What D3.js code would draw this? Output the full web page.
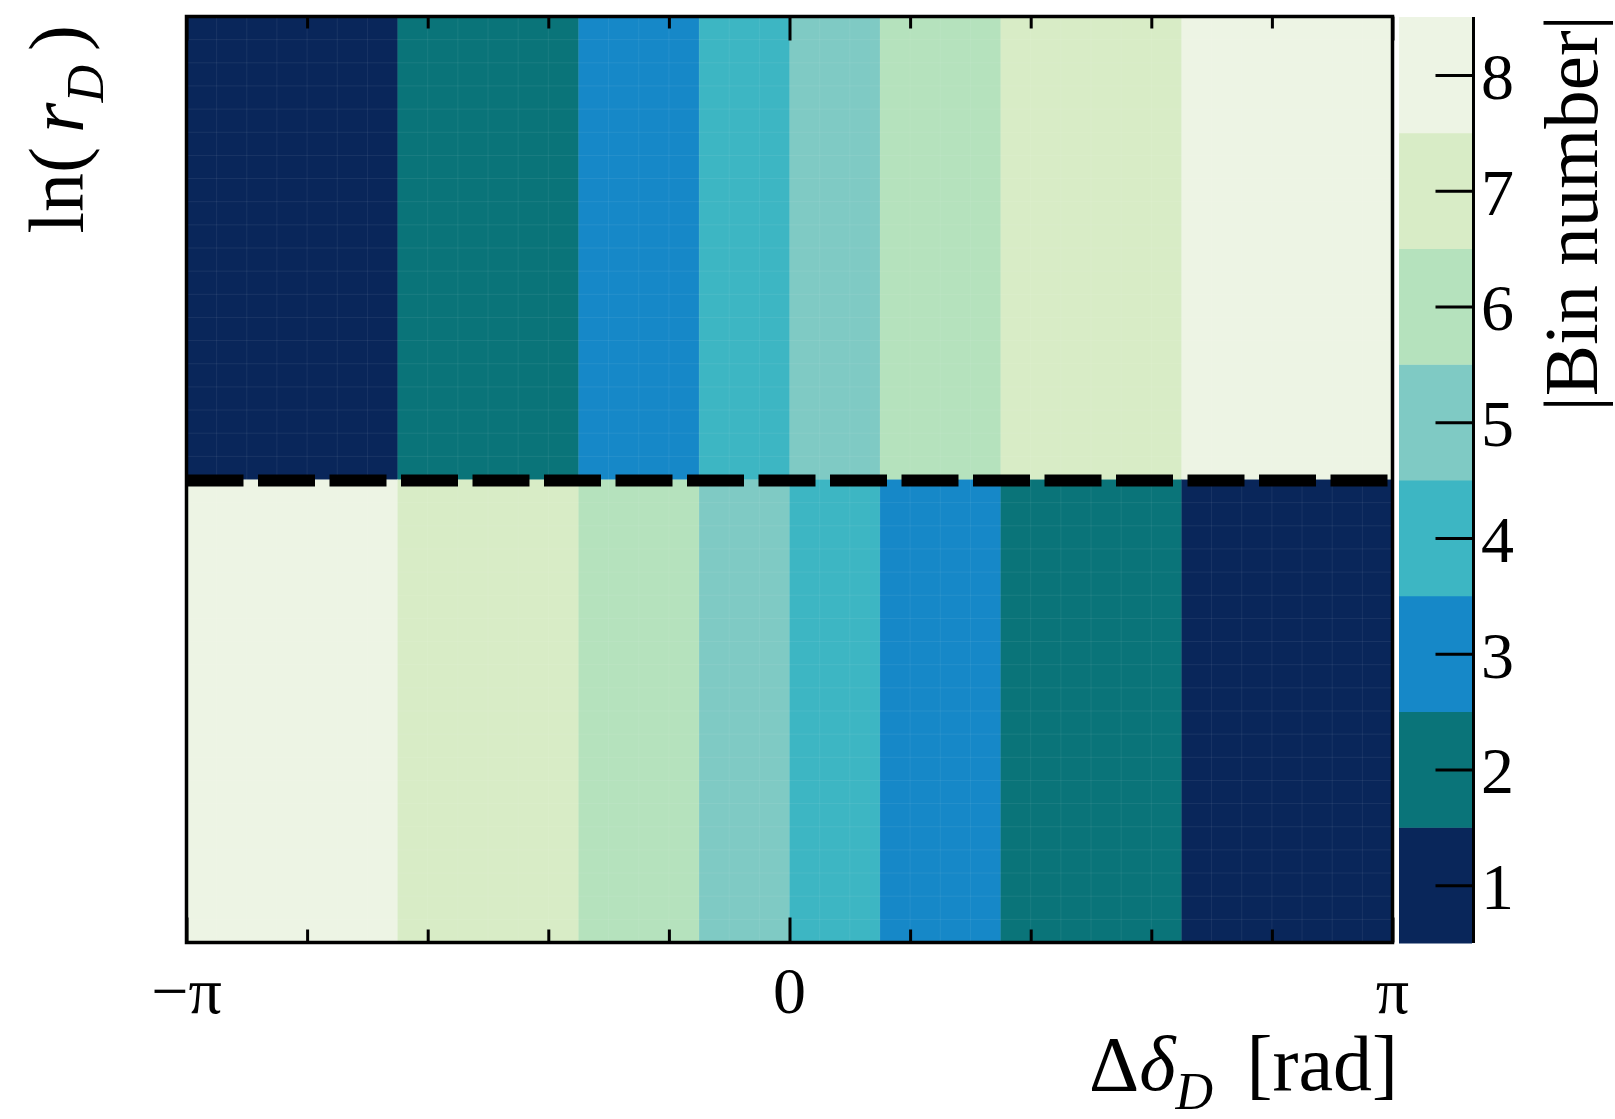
<!DOCTYPE html>
<html>
<head>
<meta charset="utf-8">
<script src="https://cdn.jsdelivr.net/npm/d3@7"></script>
<style>
  body { margin: 0; background: #fff; }
  text { font-family: 'Liberation Serif', 'Times New Roman', serif; fill: #000; }
</style>
</head>
<body>
<div id="chart"></div>
<script>
// bin edges along delta-delta_D, in units of pi
const edgesPi = [-1, -0.65, -0.35, -0.15, 0, 0.15, 0.35, 0.65, 1];
// |bin number| above and below the dashed line
const upperBins = [1, 2, 3, 4, 5, 6, 7, 8];
const lowerBins = [8, 7, 6, 5, 4, 3, 2, 1];
// ln(r_D) range and the split (dashed line)
const lnRange = [-1, 1];
const lnSplit = 0;
// colour bar
const binNumbers = [1, 2, 3, 4, 5, 6, 7, 8];
const binColors = ['#09265a', '#0a7479', '#1688c8', '#3db6c3', '#7fcac4', '#b5e2bd', '#d8ecc6', '#edf4e4'];
// axis ticks
const xMajorPi = [-1, 0, 1];
const xTickLabels = ['\u2212\u03c0', '0', '\u03c0'];
const xMinorPi = [-0.8, -0.6, -0.4, -0.2, 0.2, 0.4, 0.6, 0.8];

const W = 1615, H = 1119;
const margin = { left: 186.5, right: 1392.5, top: 16.5, bottom: 942.5 };
const nFine = 40; // fine histogram binning (seams)

const svg = d3.select('#chart').append('svg')
  .attr('width', W).attr('height', H);
svg.append('rect').attr('width', W).attr('height', H).attr('fill', '#fff');

const x = d3.scaleLinear().domain([-Math.PI, Math.PI]).range([margin.left, margin.right]);
const y = d3.scaleLinear().domain(lnRange).range([margin.bottom, margin.top]);
const color = d3.scaleOrdinal().domain(binNumbers).range(binColors);

const plot = svg.append('g').attr('class', 'plot');

// cells
const rows = [
  { lo: lnSplit, hi: lnRange[1], bins: upperBins },
  { lo: lnRange[0], hi: lnSplit, bins: lowerBins }
];
rows.forEach(row => {
  plot.append('g').selectAll('rect')
    .data(row.bins)
    .enter().append('rect')
    .attr('x', (d, i) => x(edgesPi[i] * Math.PI))
    .attr('width', (d, i) => x(edgesPi[i + 1] * Math.PI) - x(edgesPi[i] * Math.PI) + 0.5)
    .attr('y', y(row.hi))
    .attr('height', y(row.lo) - y(row.hi) + 0.5)
    .attr('fill', d => color(d));
});

// faint seams of the fine binning
const seams = plot.append('g').attr('stroke', '#fff').attr('stroke-opacity', 0.07).attr('stroke-width', 1);
d3.range(1, nFine).forEach(k => {
  const xv = x(-Math.PI + k * 2 * Math.PI / nFine);
  const yv = y(lnRange[0] + k * (lnRange[1] - lnRange[0]) / nFine);
  seams.append('line').attr('x1', xv).attr('x2', xv).attr('y1', margin.top).attr('y2', margin.bottom);
  seams.append('line').attr('x1', margin.left).attr('x2', margin.right).attr('y1', yv).attr('y2', yv);
});

// dashed split line
plot.append('line')
  .attr('x1', margin.left).attr('x2', margin.right)
  .attr('y1', y(lnSplit) + 1).attr('y2', y(lnSplit) + 1)
  .attr('stroke', '#000').attr('stroke-width', 12)
  .attr('stroke-dasharray', '57,14.5');

// ticks, bottom and mirrored on top
function tickAxis(axisFn, values, size, ty) {
  const g = svg.append('g')
    .attr('transform', `translate(0,${ty})`)
    .call(axisFn(x).tickValues(values.map(v => v * Math.PI)).tickSize(size).tickFormat(''));
  g.select('.domain').remove();
  g.selectAll('line').attr('stroke', '#000').attr('stroke-width', 3);
}
tickAxis(d3.axisBottom, xMinorPi, -13, margin.bottom);
tickAxis(d3.axisBottom, xMajorPi, -25, margin.bottom);
tickAxis(d3.axisTop, xMinorPi, -12, margin.top);
tickAxis(d3.axisTop, xMajorPi, -24, margin.top);

// frame
svg.append('rect')
  .attr('x', margin.left).attr('y', margin.top)
  .attr('width', margin.right - margin.left).attr('height', margin.bottom - margin.top)
  .attr('fill', 'none').attr('stroke', '#000').attr('stroke-width', 3.5);

// x tick labels
svg.append('g').selectAll('text')
  .data(xMajorPi)
  .enter().append('text')
  .attr('x', d => x(d * Math.PI))
  .attr('y', 1013)
  .attr('text-anchor', 'middle')
  .style('font-size', '66px')
  .text((d, i) => xTickLabels[i]);

// x title
const xt = svg.append('text')
  .attr('x', 1398).attr('y', 1090)
  .attr('text-anchor', 'end')
  .style('font-size', '78px');
xt.append('tspan').text('\u0394');
xt.append('tspan').style('font-style', 'italic').text('\u03b4');
xt.append('tspan').style('font-style', 'italic').style('font-size', '52px').attr('dy', 19).text('D');
xt.append('tspan').attr('dy', -19).attr('dx', 14).text(' [rad]');

// y title
const yt = svg.append('text')
  .attr('transform', 'translate(83,25) rotate(-90)')
  .attr('text-anchor', 'end')
  .style('font-size', '78px');
yt.append('tspan').text('ln(');
yt.append('tspan').style('font-style', 'italic').attr('dx', 14).text('r');
yt.append('tspan').style('font-style', 'italic').style('font-size', '52px').attr('dy', 20).text('D');
yt.append('tspan').attr('dy', -20).attr('dx', 14).text(')');

// colour bar
const cb = { x0: 1399, x1: 1472 };
const z = d3.scaleLinear().domain([0.5, 8.5]).range([943, 17]);
const cbar = svg.append('g');
cbar.selectAll('rect')
  .data(binNumbers)
  .enter().append('rect')
  .attr('x', cb.x0)
  .attr('width', cb.x1 - cb.x0)
  .attr('y', d => z(d + 0.5))
  .attr('height', d => z(d - 0.5) - z(d + 0.5) + 0.5)
  .attr('fill', d => color(d));

const zAxis = svg.append('g')
  .attr('transform', `translate(${cb.x1 + 1.5},0)`)
  .call(d3.axisRight(z).tickValues(binNumbers).tickSize(-38).tickFormat(''));
zAxis.select('.domain').attr('stroke', '#000').attr('stroke-width', 3).attr('d', `M0,${z(8.5)}V${z(0.5)}`);
zAxis.selectAll('line').attr('stroke', '#000').attr('stroke-width', 3);

svg.append('g').selectAll('text')
  .data(binNumbers)
  .enter().append('text')
  .attr('x', 1481)
  .attr('y', d => z(d) + 24)
  .style('font-size', '66px')
  .text(d => d);

svg.append('text')
  .attr('transform', 'translate(1597,15) rotate(-90)')
  .attr('text-anchor', 'end')
  .style('font-size', '77px')
  .text('|Bin number|');
</script>
</body>
</html>
